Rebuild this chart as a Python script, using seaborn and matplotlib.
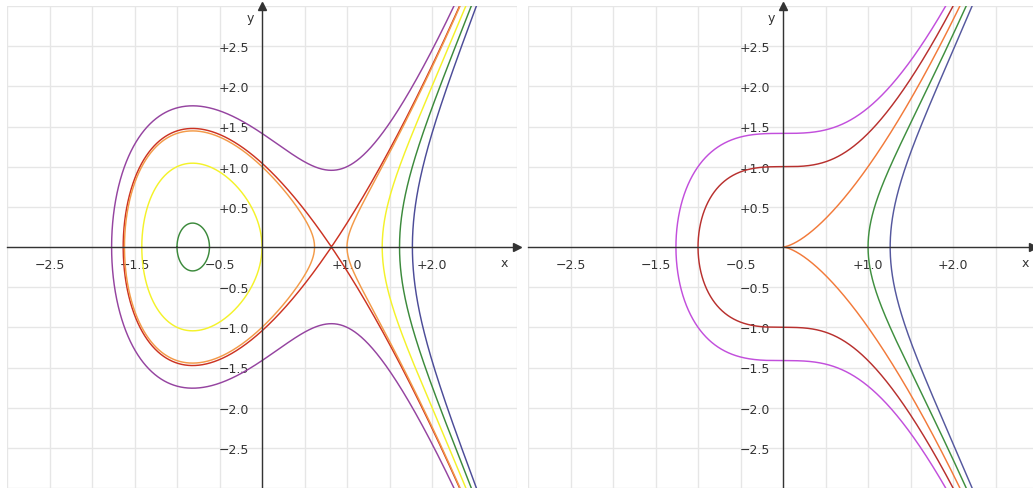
import numpy as np
import matplotlib
matplotlib.use("Agg")
import matplotlib.pyplot as plt
import seaborn as sns

# Curves y^2 = x^3 + a*x + b
LEFT_A = -2.0
LEFT_B = [2.0, 1.0887, 1.0, 0.0, -1.0, -2.0]
LEFT_COLORS = ["#9544a0", "#cc3322", "#f39a48", "#f4f22a", "#3c8a3c", "#4c4c98"]

RIGHT_A = 0.0
RIGHT_B = [2.0, 1.0, 0.0, -1.0, -2.0]
RIGHT_COLORS = ["#c24fdc", "#b8302e", "#f27a3a", "#3f8f3f", "#55589e"]

X_TICKS = [-2.5, -2.0, -1.5, -1.0, -0.5, 0.5, 1.0, 1.5, 2.0, 2.5]
X_LABELS = ["\u22122.5", "", "\u22121.5", "", "\u22120.5", "", "+1.0", "", "+2.0", ""]
Y_TICKS = [-2.5, -2.0, -1.5, -1.0, -0.5, 0.5, 1.0, 1.5, 2.0, 2.5]
Y_LABELS = ["\u22122.5", "\u22122.0", "\u22121.5", "\u22121.0", "\u22120.5",
            "+0.5", "+1.0", "+1.5", "+2.0", "+2.5"]
GRID_VALUES = np.arange(-3.0, 3.01, 0.5)

AXIS_COLOR = "#333333"
GRID_COLOR = "#e6e6e6"


def curve_pieces(a, b, xmax=2.7, n=2500):
    """Return the connected components of y^2 = x^3 + a x + b as (x, y) paths."""
    f = lambda x: x ** 3 + a * x + b
    roots = np.roots([1.0, 0.0, a, b])
    real = sorted(r.real for r in roots if abs(r.imag) < 1e-4)
    pieces = []
    if len(real) == 3 and real[1] - real[0] > 1e-3 and real[2] - real[1] > 1e-3:
        lo, hi = real[0], real[1]
        t = np.linspace(0, 2 * np.pi, n)
        x = lo + (hi - lo) * (1 - np.cos(t)) / 2
        y = np.sign(np.sin(t)) * np.sqrt(np.clip(f(x), 0, None))
        pieces.append((x, y))
        start = real[2]
    else:
        start = real[0]
    s = np.linspace(-1, 1, 2 * n + 1)
    x = start + (xmax - start) * s ** 2
    y = np.sign(s) * np.sqrt(np.clip(f(x), 0, None))
    pieces.append((x, y))
    return pieces


sns.set_theme(style="white")
plt.rcParams["font.family"] = ["DejaVu Sans"]

W, H = 1033, 489
fig = plt.figure(figsize=(W / 100, H / 100), dpi=100)
ax_left = fig.add_axes([7 / W, 0, 510 / W, 482 / H])
ax_right = fig.add_axes([528 / W, 0, 505 / W, 482 / H])


def draw_panel(ax, a, bs, colors, xright):
    ax.set_xlim(-3, xright)
    ax.set_ylim(-3, 3)
    ax.set_facecolor("white")
    for v in GRID_VALUES:
        ax.axvline(v, color=GRID_COLOR, lw=1, zorder=0)
        ax.axhline(v, color=GRID_COLOR, lw=1, zorder=0)

    for b, c in zip(bs, colors):
        for x, y in curve_pieces(a, b):
            sns.lineplot(x=x, y=y, sort=False, estimator=None, color=c,
                         lw=1.05, ax=ax, zorder=3)

    for side in ("top", "right"):
        ax.spines[side].set_visible(False)
    for side in ("left", "bottom"):
        ax.spines[side].set_position(("data", 0))
        ax.spines[side].set_color(AXIS_COLOR)
        ax.spines[side].set_linewidth(1)
        ax.spines[side].set_zorder(4)

    ax.set_xticks(X_TICKS)
    ax.set_xticklabels(X_LABELS)
    ax.set_yticks(Y_TICKS)
    ax.set_yticklabels(Y_LABELS)
    ax.tick_params(axis="both", direction="inout", length=4.5, width=1,
                   color=AXIS_COLOR, labelsize=9, labelcolor=AXIS_COLOR)
    ax.tick_params(axis="x", pad=6)
    ax.tick_params(axis="y", pad=7)
    ax.set_xlabel("")
    ax.set_ylabel("")
    ax.grid(False)

    ax.plot(1, 0, ">", color=AXIS_COLOR, ms=5.5, transform=ax.get_yaxis_transform(),
            clip_on=False, zorder=5)
    ax.plot(0, 1, "^", color=AXIS_COLOR, ms=5.5, transform=ax.get_xaxis_transform(),
            clip_on=False, zorder=5)
    ax.text(2.85, -0.19, "x", ha="center", va="center", fontsize=9, color=AXIS_COLOR)
    ax.text(-0.14, 2.86, "y", ha="center", va="center", fontsize=9, color=AXIS_COLOR)


draw_panel(ax_left, LEFT_A, LEFT_B, LEFT_COLORS, 3.0)
draw_panel(ax_right, RIGHT_A, RIGHT_B, RIGHT_COLORS, 2.94)

fig.savefig("out.png", dpi=100, facecolor="white")
